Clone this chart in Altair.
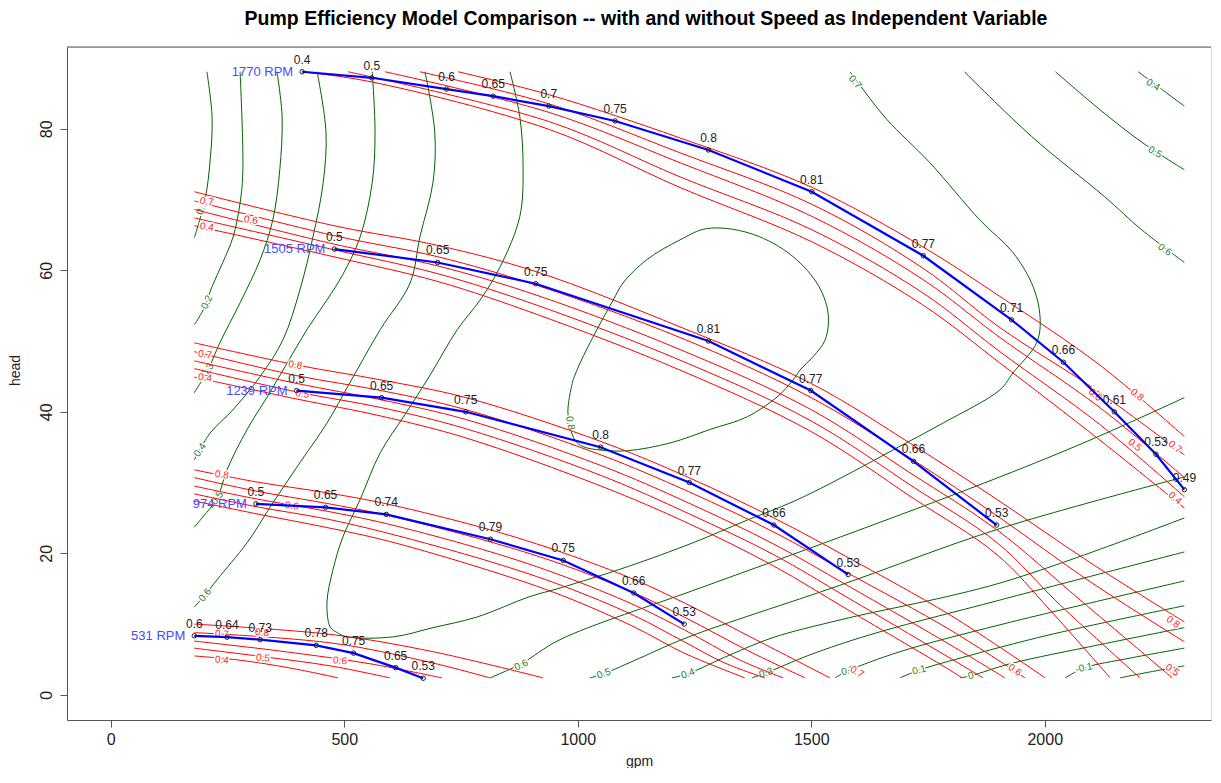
import altair as alt
import pandas as pd

TITLE = "Pump Efficiency Model Comparison -- with and without Speed as Independent Variable"

SPEEDS = [1770, 1505, 1239, 974, 531]

GPM_1770 = [410, 559, 719, 819, 938, 1080, 1280, 1501, 1740, 1929, 2040, 2149, 2238, 2299]
HEAD_1770 = [88.05, 87.2, 85.6, 84.6, 83.2, 81.1, 77.0, 71.1, 62.05, 53.0, 47.0, 40.0, 34.0, 29.0]
EFF_1770 = ["0.4", "0.5", "0.6", "0.65", "0.7", "0.75", "0.8", "0.81", "0.77", "0.71", "0.66", "0.61", "0.53", "0.49"]

GPM_1505 = [479, 700, 910, 1280, 1499, 1719, 1897]
HEAD_1505 = [63.0, 61.1, 58.1, 50.0, 43.0, 33.0, 24.0]
EFF_1505 = ["0.5", "0.65", "0.75", "0.81", "0.77", "0.66", "0.53"]

GPM_1239 = [398, 580, 760, 1049, 1239, 1420, 1579]
HEAD_1239 = [43.0, 42.0, 40.0, 35.0, 30.0, 24.0, 17.0]
EFF_1239 = ["0.5", "0.65", "0.75", "0.8", "0.77", "0.66", "0.53"]

GPM_974 = [311, 460, 590, 813, 969, 1120, 1228]
HEAD_974 = [27.0, 26.5, 25.5, 22.0, 19.0, 14.4, 10.0]
EFF_974 = ["0.5", "0.65", "0.74", "0.79", "0.75", "0.66", "0.53"]

GPM_531 = [179, 249, 320, 440, 520, 610, 669]
HEAD_531 = [8.35, 8.15, 7.8, 7.0, 5.9, 3.85, 2.35]
EFF_531 = ["0.6", "0.64", "0.73", "0.78", "0.75", "0.65", "0.53"]

# red: efficiency contours of the model with speed as a variable, one bundle per speed
RED_1770 = {
    "0.8": [(744, 88.05), (939, 84.8), (1219, 78.7), (1502, 71.7), (1739, 63.3), (1904, 56.3), (2118, 46.6), (2299, 36.5)],
    "0.7": [(662, 88.05), (939, 83.5), (1219, 76.6), (1502, 69.3), (1739, 60.3), (1904, 51.9), (2118, 42.7), (2299, 33.9)],
    "0.6": [(587, 88.05), (939, 82.3), (1219, 75.2), (1502, 67.6), (1739, 58.7), (1904, 50.5), (2118, 40.6), (2299, 30.7)],
    "0.5": [(508, 88.05), (939, 81.0), (1219, 73.2), (1502, 65.7), (1739, 56.8), (1904, 48.5), (2118, 38.2), (2299, 28.0)],
    "0.4": [(410, 88.05), (560, 86.6), (939, 79.9), (1219, 71.7), (1502, 64.0), (1739, 55.1), (1904, 46.9), (2118, 36.0), (2299, 26.4)],
}
RED_1505 = {
    "0.8": [(179, 71.1), (478, 66.3), (701, 63.5), (911, 59.8), (1219, 52.0), (1500, 44.0), (1718, 35.3), (1898, 27.6), (2097, 18.7), (2299, 10.3)],
    "0.7": [(179, 69.8), (478, 64.9), (701, 61.9), (911, 57.9), (1219, 50.5), (1500, 42.0), (1718, 33.2), (1898, 25.3), (2097, 16.0), (2299, 7.5)],
    "0.6": [(179, 68.6), (478, 63.7), (701, 60.6), (911, 56.5), (1219, 48.8), (1500, 40.3), (1718, 31.1), (1898, 23.3), (2076, 13.4), (2273, 2.4)],
    "0.5": [(179, 67.4), (478, 62.9), (701, 59.5), (911, 55.1), (1219, 47.3), (1500, 38.7), (1718, 29.4), (1898, 21.5), (2033, 12.7), (2204, 2.4)],
    "0.4": [(179, 66.3), (478, 61.9), (701, 58.4), (911, 53.8), (1219, 45.9), (1500, 37.2), (1718, 27.8), (1898, 19.8), (2011, 12.0), (2140, 2.4)],
}
RED_1239 = {
    "0.8": [(179, 49.75), (399, 46.6), (579, 44.5), (761, 42.0), (1050, 35.8), (1238, 30.7), (1420, 25.0), (1579, 19.4), (1797, 11.3), (2001, 2.4)],
    "0.7": [(179, 48.5), (399, 45.1), (579, 43.0), (761, 40.3), (1050, 33.9), (1238, 28.7), (1420, 23.0), (1579, 17.2), (1797, 9.2), (1958, 2.4)],
    "0.6": [(179, 47.2), (399, 44.0), (579, 41.7), (761, 38.9), (1050, 32.4), (1238, 27.1), (1420, 21.3), (1579, 15.4), (1797, 7.1), (1915, 2.4)],
    "0.5": [(179, 46.1), (399, 42.8), (579, 40.6), (761, 37.6), (1050, 31.0), (1238, 25.6), (1420, 19.8), (1579, 13.7), (1797, 5.2), (1868, 2.4)],
    "0.4": [(179, 44.9), (399, 41.8), (579, 39.4), (761, 36.3), (1050, 29.5), (1238, 24.2), (1420, 18.2), (1579, 12.0), (1797, 3.5), (1823, 2.4)],
}
RED_974 = {
    "0.8": [(179, 31.8), (311, 30.1), (459, 28.6), (590, 27.0), (814, 23.3), (968, 20.1), (1121, 16.3), (1228, 13.0), (1390, 7.5), (1540, 2.4)],
    "0.7": [(179, 30.7), (311, 28.8), (459, 27.1), (590, 25.4), (814, 21.6), (968, 18.4), (1121, 14.4), (1228, 11.0), (1369, 6.1), (1487, 2.4)],
    "0.6": [(179, 29.5), (311, 27.7), (459, 26.0), (590, 24.2), (814, 20.2), (968, 16.8), (1121, 12.7), (1228, 9.2), (1348, 4.9), (1440, 2.4)],
    "0.5": [(179, 28.4), (311, 26.6), (459, 24.9), (590, 22.9), (814, 18.8), (968, 15.4), (1121, 11.2), (1228, 7.5), (1315, 4.5), (1401, 2.4)],
    "0.4": [(179, 27.4), (311, 25.6), (459, 23.7), (590, 21.8), (814, 17.5), (968, 14.0), (1121, 9.6), (1228, 5.9), (1358, 2.4)],
}
RED_531 = {
    "0.8": [(179, 10.0), (476, 8.5), (690, 6.1), (926, 2.4)],
    "0.7": [(179, 8.8), (476, 7.3), (690, 4.5), (812, 2.4)],
    "0.6": [(179, 7.6), (362, 6.2), (555, 4.4), (709, 2.4)],
    "0.5": [(179, 6.6), (326, 5.4), (470, 4.1), (598, 2.4)],
    "0.4": [(179, 5.5), (277, 4.9), (384, 3.8), (487, 2.4)],
}

# green: efficiency contours of the model without speed
GREEN_LEFT = {
    "0.1": [(206, 88.05), (217, 81.7), (213, 75.6), (202, 70.0), (179, 64.6)],
    "0.2": [(277, 88.05), (283, 74.2), (277, 69.5), (262, 64.7), (240, 61.1), (217, 57.7), (198, 54.4), (179, 52.3)],
    "0.3": [(356, 88.05), (367, 81.7), (362, 74.2), (347, 67.1), (320, 61.5), (277, 55.4), (234, 49.8), (208, 45.9), (179, 42.7)],
    "0.4": [(442, 88.05), (461, 79.5), (455, 72.4), (433, 64.7), (405, 57.2), (369, 50.2), (320, 45.0), (262, 40.3), (213, 37.0), (179, 33.2)],
    "0.5": [(560, 88.05), (566, 79.4), (560, 72.4), (534, 64.7), (497, 59.4), (463, 55.8), (420, 51.6), (378, 46.9), (335, 42.1), (292, 37.5), (249, 31.8), (228, 27.8), (198, 25.2), (179, 23.7)],
    "0.6": [(673, 88.05), (694, 79.4), (690, 72.4), (662, 64.7), (641, 58.2), (577, 51.6), (512, 44.1), (463, 38.4), (405, 32.8), (347, 27.1), (292, 21.5), (228, 16.3), (202, 14.1), (179, 12.4)],
}
GREEN_07 = [(855, 88.05), (876, 81.7), (883, 74.6), (876, 67.6), (834, 60.5), (791, 55.8), (742, 51.6), (684, 45.2),
            (630, 39.6), (577, 34.2), (534, 27.6), (497, 22.3), (476, 17.7), (463, 13.0), (470, 9.6), (485, 8.8),
            (506, 8.2), (605, 8.2), (690, 9.5), (784, 11.0), (898, 13.9), (962, 15.1), (1106, 18.1), (1247, 21.5),
            (1363, 24.7), (1461, 27.3), (1568, 30.8), (1675, 34.6), (1782, 38.4), (1904, 43.1), (1932, 45.5),
            (1983, 49.8), (1990, 53.4), (1975, 57.7), (1932, 62.5), (1861, 67.1), (1754, 75.2), (1662, 81.3),
            (1615, 85.2), (1583, 88.05)]
GREEN_08 = [(990, 44.5), (1005, 46.9), (1041, 51.6), (1076, 55.8), (1097, 58.2), (1148, 61.5), (1219, 64.3),
            (1277, 65.9), (1365, 65.3), (1450, 62.5), (1512, 58.2), (1536, 54.0), (1530, 50.2), (1504, 47.8),
            (1476, 45.9), (1461, 44.5), (1427, 42.1), (1363, 39.3), (1283, 37.5), (1198, 35.6), (1106, 34.5),
            (1048, 34.6), (1011, 35.1), (994, 36.0), (979, 39.9), (990, 44.5)]
GREEN_TOPRIGHT = {
    "0.6": [(1828, 88.05), (1972, 78.9), (2128, 70.4), (2208, 65.7), (2299, 61.1)],
    "0.5": [(2023, 88.05), (2118, 82.7), (2210, 78.0), (2299, 74.2)],
    "0.4": [(2200, 88.05), (2258, 85.2), (2299, 83.2)],
}
GREEN_BOTTOM = {
    "0.6": [(812, 2.4), (879, 4.4), (962, 7.8), (1262, 15.1), (1562, 22.3), (1904, 30.8), (2097, 36.0), (2299, 42.0)],
    "0.5": [(1026, 2.4), (1056, 3.0), (1133, 5.2), (1234, 8.1), (1562, 15.5), (1904, 23.5), (2299, 30.8)],
    "0.4": [(1202, 2.4), (1236, 3.0), (1326, 5.65), (1418, 8.1), (1562, 10.6), (1904, 15.8), (2299, 25.0)],
    "0.3": [(1373, 2.4), (1403, 3.1), (1497, 5.65), (1626, 8.5), (1904, 13.4), (2299, 20.2)],
    "0.2": [(1551, 2.4), (1579, 3.4), (1690, 6.1), (1904, 9.9), (2299, 16.1)],
    "0.1": [(1690, 2.4), (1731, 3.5), (1819, 5.2), (2011, 8.5), (2299, 12.6)],
    "0": [(1819, 2.4), (1842, 2.7), (1926, 4.4), (2118, 7.1), (2299, 9.5)],
    "-0.1": [(2044, 2.4), (2084, 3.8), (2183, 5.2), (2299, 6.6)],
    "-0.2": [(2161, 2.4), (2226, 3.25), (2299, 4.1)],
}

GREEN_LABELS = [("0.1", 195, 68.8, 290), ("0.2", 206, 55.5, 295), ("0.3", 208, 45.9, 300), ("0.4", 191, 34.6, 305),
                ("0.5", 228, 27.8, 305), ("0.6", 202, 14.1, 310), ("0.8", 984, 38.4, 80), ("0.7", 1594, 86.6, 50),
                ("0.6", 2257, 62.9, 35), ("0.5", 2236, 76.7, 30), ("0.4", 2232, 86.2, 30), ("0.6", 879, 4.2, 335),
                ("0.5", 1056, 3.0, 340), ("0.4", 1236, 3.0, 340), ("0.3", 1403, 3.1, 342), ("0.2", 1579, 3.4, 345),
                ("0.1", 1731, 3.5, 345), ("0", 1842, 2.7, 348), ("-0.1", 2084, 3.8, 348)]
RED_LABELS = [("0.8", 2198, 42.4, 40), ("0.7", 2279, 35.05, 40), ("0.6", 2108, 42.4, 40), ("0.5", 2193, 35.3, 40),
              ("0.4", 2279, 27.8, 40), ("0.7", 206, 69.7, 8), ("0.6", 300, 67.1, 8), ("0.4", 206, 66.1, 8),
              ("0.8", 2275, 10.3, 35), ("0.5", 2273, 3.5, 35), ("0.7", 202, 48.1, 8), ("0.8", 395, 46.6, 8),
              ("0.4", 202, 44.8, 8), ("0.5", 410, 42.5, 8), ("0.6", 1936, 3.5, 35), ("0.8", 238, 31.1, 8),
              ("0.6", 388, 26.7, 8), ("0.7", 1598, 3.25, 30), ("0.7", 238, 8.6, 5), ("0.8", 324, 8.8, 5),
              ("0.4", 238, 4.9, 5), ("0.5", 326, 5.2, 5), ("0.6", 491, 4.8, 5)]

# ---------------- build tables ----------------
def line_rows(groups, prefix):
    rows = []
    for key, pts in groups.items():
        for i, (g, h) in enumerate(pts):
            rows.append({"id": f"{prefix}_{key}", "ord": i, "gpm": g, "head": h})
    return rows

green_rows = line_rows(GREEN_LEFT, "gl") + line_rows(GREEN_TOPRIGHT, "gt") + line_rows(GREEN_BOTTOM, "gb")
green_rows += line_rows({"0.7": GREEN_07, "0.8": GREEN_08}, "gm")
green_df = pd.DataFrame(green_rows)

red_rows = []
for s, grp in zip(SPEEDS, [RED_1770, RED_1505, RED_1239, RED_974, RED_531]):
    red_rows += line_rows(grp, f"r{s}")
red_df = pd.DataFrame(red_rows)

blue_rows = []
rpm_rows = []
for s, gs, hs, es in zip(SPEEDS, [GPM_1770, GPM_1505, GPM_1239, GPM_974, GPM_531],
                         [HEAD_1770, HEAD_1505, HEAD_1239, HEAD_974, HEAD_531],
                         [EFF_1770, EFF_1505, EFF_1239, EFF_974, EFF_531]):
    for i, (g, h, e) in enumerate(zip(gs, hs, es)):
        blue_rows.append({"speed": s, "ord": i, "gpm": g, "head": h, "eff": e})
    rpm_rows.append({"gpm": gs[0], "head": hs[0], "label": f"{s} RPM"})
blue_df = pd.DataFrame(blue_rows)
rpm_df = pd.DataFrame(rpm_rows)

glab_df = pd.DataFrame(GREEN_LABELS, columns=["t", "gpm", "head", "ang"])
rlab_df = pd.DataFrame(RED_LABELS, columns=["t", "gpm", "head", "ang"])
title_df = pd.DataFrame({"t": [TITLE]})

W, H = 1144, 673
FONT = "Liberation Sans"

x_axis = alt.Axis(values=[0, 500, 1000, 1500, 2000], format="d", title="gpm", grid=False,
                  tickSize=7, tickColor="#555", domainColor="#555", labelFontSize=16, labelFont=FONT,
                  labelColor="#222", labelPadding=4, labelFlush=False, titleFont=FONT, titleFontSize=14,
                  titleFontWeight="normal", titleColor="#222", titleY=41, titleBaseline="middle")
y_axis = alt.Axis(values=[0, 20, 40, 60, 80], format="d", title="head", grid=False,
                  tickSize=7, tickColor="#555", domainColor="#555", labelFontSize=16, labelFont=FONT,
                  labelColor="#222", labelAngle=270, labelAlign="center", labelBaseline="bottom",
                  labelPadding=6, labelFlush=False, titleFont=FONT, titleFontSize=14, titleFontWeight="normal",
                  titleColor="#222", titleAngle=270, titleX=-52, titleY=323, titleAlign="center",
                  titleBaseline="middle")

def X():
    return alt.X("gpm:Q", scale=alt.Scale(domain=[-93.6, 2356], nice=False, zero=False), axis=x_axis)

def Y():
    return alt.Y("head:Q", scale=alt.Scale(domain=[-3.55, 91.55], nice=False, zero=False), axis=y_axis)

green = alt.Chart(green_df).mark_line(color="#006400", strokeWidth=1, interpolate="catmull-rom", clip=True).encode(
    x=X(), y=Y(), detail="id:N", order="ord:Q")
glab_halo = alt.Chart(glab_df).mark_text(fontSize=10, font=FONT, stroke="white", strokeWidth=3, color="white").encode(
    x=X(), y=Y(), text="t:N", angle=alt.Angle("ang:Q", scale=None))
glab = alt.Chart(glab_df).mark_text(fontSize=10, font=FONT, color="#1f7a1f").encode(
    x=X(), y=Y(), text="t:N", angle=alt.Angle("ang:Q", scale=None))
red = alt.Chart(red_df).mark_line(color="#ff0000", strokeWidth=1, interpolate="catmull-rom", clip=True).encode(
    x=X(), y=Y(), detail="id:N", order="ord:Q")
rlab_halo = alt.Chart(rlab_df).mark_text(fontSize=10, font=FONT, stroke="white", strokeWidth=3, color="white").encode(
    x=X(), y=Y(), text="t:N", angle=alt.Angle("ang:Q", scale=None))
rlab = alt.Chart(rlab_df).mark_text(fontSize=10, font=FONT, color="#ff2020").encode(
    x=X(), y=Y(), text="t:N", angle=alt.Angle("ang:Q", scale=None))
blue = alt.Chart(blue_df).mark_line(color="#0000ff", strokeWidth=2.2).encode(
    x=X(), y=Y(), detail="speed:N", order="ord:Q")
pts = alt.Chart(blue_df).mark_point(shape="circle", filled=False, color="#222", size=20, strokeWidth=1,
                                    opacity=1).encode(x=X(), y=Y())
eff_txt = alt.Chart(blue_df).mark_text(dy=-12, fontSize=12, font=FONT, color="#222", baseline="middle").encode(
    x=X(), y=Y(), text="eff:N")
rpm_txt = alt.Chart(rpm_df).mark_text(align="right", baseline="middle", dx=-9, fontSize=13, font=FONT,
                                      color="#4a4aff").encode(x=X(), y=Y(), text="label:N")
frame = alt.Chart(pd.DataFrame({"k": [0]})).mark_rule(color="#555", strokeWidth=1).encode(
    x=alt.value(0), x2=alt.value(W), y=alt.value(0))
title = alt.Chart(title_df).mark_text(fontSize=19.5, font=FONT, fontWeight="bold", align="center",
                                      baseline="middle", color="#000").encode(
    x=alt.value(W / 2 + 7), y=alt.value(-28), text="t:N")

chart = alt.layer(green, glab_halo, glab, red, rlab_halo, rlab, blue, pts, eff_txt, rpm_txt, frame, title).properties(
    width=W, height=H,
    padding={"left": 59, "top": 39, "right": 2, "bottom": 48},
    autosize=alt.AutoSizeParams(type="none"),
).configure_view(strokeWidth=0).configure(background="white")

chart.save("out.html", embed_options={"renderer": "svg", "actions": False})
